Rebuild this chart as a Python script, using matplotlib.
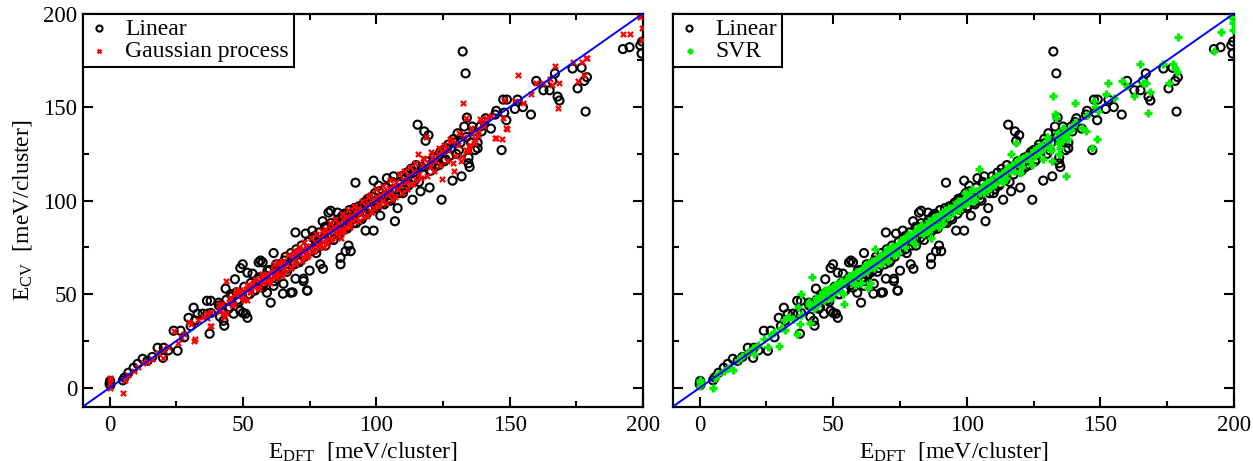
import matplotlib.pyplot as plt
from matplotlib.ticker import MultipleLocator

plt.rcParams['font.family'] = ['Liberation Serif', 'DejaVu Serif']
plt.rcParams['mathtext.fontset'] = 'custom'
plt.rcParams['mathtext.rm'] = 'Liberation Serif'
plt.rcParams['mathtext.it'] = 'Liberation Serif:italic'
plt.rcParams['font.size'] = 16.5

# DFT energies (shared x) and cross-validated predictions, meV/cluster
e_dft = [0.0, 0.2, 0.3, 0.1, 5.0, 5.6, 7.0, 9.0, 10.5, 12.4,
         14.2, 16.0, 18.0, 20.0, 20.3, 22.0, 24.0, 25.5, 26.6, 28.0,
         29.6, 30.4, 31.5, 32.0, 33.0, 34.9, 36.5, 36.7, 37.5, 37.9,
         38.0, 40.9, 41.4, 42.0, 42.7, 43.0, 43.5, 44.6, 45.4, 46.5,
         47.0, 48.0, 49.0, 49.0, 49.9, 50.0, 51.0, 51.7, 51.7, 52.5,
         53.6, 54.0, 55.5, 55.9, 56.6, 57.4, 57.4, 58.0, 59.0, 59.2,
         60.4, 61.0, 61.5, 61.5, 62.9, 63.6, 64.0, 65.0, 65.2, 65.5,
         66.5, 67.9, 68.6, 69.0, 69.7, 69.7, 70.5, 71.5, 72.7, 72.7,
         73.5, 74.0, 74.2, 75.0, 76.0, 77.0, 78.0, 79.0, 79.9, 80.0,
         80.5, 81.0, 82.1, 82.9, 83.5, 84.0, 85.0, 85.5, 86.0, 86.6,
         86.6, 86.6, 87.7, 88.5, 89.0, 89.6, 90.4, 91.0, 92.2, 92.5,
         93.0, 94.0, 95.0, 96.0, 96.5, 97.0, 98.0, 99.0, 99.0, 99.5,
         100.3, 100.9, 101.5, 102.0, 103.0, 104.0, 104.7, 105.5, 106.5, 107.0,
         107.5, 108.0, 109.0, 110.0, 111.0, 112.0, 113.6, 114.0, 115.5, 116.0,
         116.6, 117.0, 118.0, 118.5, 119.6, 120.0, 121.0, 122.0, 123.0, 124.5,
         125.0, 126.0, 127.0, 128.0, 128.6, 129.0, 130.0, 130.5, 131.6, 132.0,
         132.4, 133.0, 133.5, 134.0, 134.6, 134.6, 135.0, 136.0, 137.0, 138.0,
         138.0, 139.0, 139.5, 140.5, 141.0, 143.0, 144.6, 145.0, 147.0, 147.6,
         148.0, 148.8, 149.0, 152.0, 153.0, 155.0, 158.0, 160.0, 162.7, 165.0,
         166.0, 167.0, 168.0, 168.7, 173.6, 175.5, 177.0, 178.0, 178.5, 179.0,
         192.5, 195.0, 199.0, 199.5, 199.7,
         41.0, 43.8, 45.0, 46.0, 47.5, 48.5, 50.5, 52.0, 53.0, 54.5,
         56.0, 57.0, 58.5, 60.0, 61.8, 62.5, 63.0, 64.5, 66.0, 67.0,
         68.0, 69.3, 70.0, 71.0, 72.0, 73.0, 74.5, 75.5, 76.5, 77.5,
         78.5, 79.5, 81.5, 82.5, 83.0, 84.5, 85.8, 87.0, 88.0, 89.3,
         90.0, 91.5, 93.5, 94.5, 95.5, 97.5, 98.5, 100.0, 101.0, 102.5,
         103.5, 105.0, 106.0, 108.5, 109.5, 110.5, 111.5, 112.5, 113.0, 114.5,
         115.0, 117.5, 119.0, 120.5, 121.5, 123.5, 124.0, 125.5, 126.5, 127.5,
         129.5, 131.0, 133.8, 135.5, 136.5, 96.8, 91.8, 87.3, 80.8, 76.8]

e_linear = [2.0, 3.7, 1.5, 2.8, 4.0, 5.5, 8.0, 10.7, 12.8, 15.5,
            14.4, 16.5, 21.4, 16.0, 21.4, 20.0, 30.5, 19.8, 30.5, 27.0,
            37.4, 33.0, 42.8, 36.0, 39.6, 39.6, 46.5, 39.6, 28.9, 46.5,
            40.0, 45.5, 38.0, 44.0, 35.8, 33.2, 53.0, 42.2, 50.0, 39.6,
            58.0, 47.0, 41.2, 64.0, 66.0, 40.0, 39.6, 37.4, 61.5, 50.0,
            61.0, 52.0, 58.0, 67.0, 68.0, 53.5, 67.0, 56.0, 50.8, 62.5,
            45.5, 58.8, 54.5, 72.0, 60.0, 64.0, 66.0, 50.3, 55.6, 68.0,
            62.0, 50.8, 51.0, 70.0, 58.3, 83.0, 72.0, 68.0, 58.3, 57.0,
            82.4, 52.0, 51.9, 62.6, 84.0, 74.0, 78.0, 66.0, 89.0, 63.6,
            80.0, 76.0, 93.6, 94.6, 84.0, 79.0, 88.0, 93.6, 82.0, 88.0,
            69.5, 66.0, 91.0, 73.0, 85.0, 76.0, 73.0, 90.0, 109.6, 88.0,
            95.0, 91.0, 98.0, 84.0, 93.0, 100.0, 96.0, 110.7, 84.0, 104.0,
            97.0, 108.0, 92.0, 102.0, 98.0, 112.0, 103.0, 100.0, 113.0, 89.0,
            106.0, 96.0, 110.0, 104.0, 112.0, 108.0, 100.5, 115.0, 140.6, 110.0,
            105.0, 118.0, 137.0, 132.0, 135.0, 107.0, 120.0, 118.0, 124.0, 100.5,
            127.0, 122.0, 130.0, 128.0, 110.7, 133.0, 125.0, 136.0, 131.0, 113.0,
            179.7, 139.6, 168.0, 144.4, 123.0, 120.0, 118.0, 139.6, 127.0, 131.0,
            128.0, 139.6, 137.0, 142.0, 144.0, 138.5, 146.0, 148.0, 127.0, 154.0,
            147.0, 143.0, 154.0, 149.0, 154.0, 150.0, 146.0, 164.0, 159.0, 159.0,
            164.0, 168.0, 155.6, 153.5, 170.6, 160.0, 171.0, 164.0, 147.6, 166.0,
            181.0, 182.0, 183.0, 178.6, 185.0,
            44.0, 47.0, 43.0, 49.0, 51.0, 46.0, 54.0, 50.0, 56.0, 52.0,
            59.0, 55.0, 60.0, 63.0, 57.0, 66.0, 61.0, 62.0, 70.0, 64.0,
            72.0, 66.0, 74.0, 67.0, 76.0, 70.0, 78.0, 73.0, 80.0, 72.0,
            83.0, 76.0, 86.0, 80.0, 88.0, 82.0, 90.0, 84.0, 93.0, 86.0,
            95.0, 88.0, 97.0, 90.0, 99.0, 95.0, 102.0, 96.0, 105.0, 99.0,
            107.0, 101.0, 110.0, 104.0, 113.0, 106.0, 115.0, 109.0, 117.0, 111.0,
            119.0, 114.0, 121.0, 116.0, 123.0, 119.0, 126.0, 121.0, 128.0, 124.0,
            131.0, 127.0, 134.0, 131.0, 137.0, 101.0, 96.0, 92.0, 86.0, 81.0]

e_gp = [4.5, 2.5, 0.0, 5.0, -3.0, 4.0, 7.0, 9.0, 11.0, 13.0,
        14.0, 15.5, 18.5, 16.0, 20.0, 22.0, 30.5, 24.0, 27.0, 29.0,
        35.0, 34.0, 25.0, 26.0, 36.0, 38.0, 37.5, 40.0, 33.0, 40.5,
        33.0, 42.0, 41.0, 45.0, 40.0, 38.0, 57.0, 46.0, 48.0, 45.0,
        50.0, 49.0, 50.0, 52.0, 51.0, 48.0, 53.0, 47.0, 55.0, 51.0,
        56.0, 54.0, 54.0, 57.0, 58.0, 56.0, 60.0, 59.0, 57.0, 61.0,
        58.0, 62.0, 60.0, 63.0, 62.0, 66.0, 61.0, 63.0, 68.0, 65.0,
        66.0, 64.0, 70.0, 67.0, 71.0, 69.0, 72.0, 73.0, 70.0, 74.0,
        72.0, 75.0, 70.0, 76.0, 74.0, 78.0, 77.0, 80.0, 78.0, 75.0,
        82.0, 79.0, 83.0, 85.0, 80.0, 86.0, 84.0, 87.0, 88.0, 85.0,
        83.0, 80.0, 90.0, 86.0, 91.0, 88.0, 92.0, 89.0, 94.0, 90.0,
        96.0, 93.0, 95.0, 97.0, 92.0, 99.0, 94.0, 101.0, 96.0, 100.0,
        102.0, 98.0, 103.0, 100.0, 105.0, 103.0, 107.0, 104.0, 108.0, 102.0,
        110.0, 106.0, 108.0, 111.0, 110.0, 113.0, 109.0, 116.0, 125.0, 114.0,
        112.0, 119.0, 122.0, 134.0, 120.0, 118.0, 123.0, 121.0, 125.0, 111.8,
        126.0, 128.0, 127.0, 132.0, 120.0, 116.0, 131.0, 130.0, 121.0, 124.0,
        152.4, 134.0, 144.0, 126.7, 129.0, 127.0, 130.0, 136.0, 133.0, 137.0,
        135.0, 143.8, 141.0, 140.0, 144.0, 145.0, 133.7, 133.7, 133.0, 144.0,
        154.0, 139.0, 138.5, 153.0, 167.0, 152.0, 157.0, 163.0, 162.6, 165.0,
        162.0, 171.7, 149.7, 162.6, 174.0, 164.0, 174.3, 167.0, 176.0, 176.0,
        188.8, 189.3, 198.0, 192.5, 185.6,
        45.0, 40.0, 48.0, 44.0, 52.0, 50.0, 47.0, 55.0, 51.0, 58.0,
        53.0, 61.0, 57.0, 56.0, 66.0, 59.0, 67.0, 60.0, 62.0, 71.0,
        64.0, 73.0, 66.0, 75.0, 68.0, 78.0, 71.0, 80.0, 73.0, 82.0,
        75.0, 84.0, 77.0, 88.0, 79.0, 90.0, 81.0, 93.0, 84.0, 95.0,
        86.0, 97.0, 89.0, 100.0, 91.0, 103.0, 94.0, 106.0, 97.0, 108.0,
        99.0, 111.0, 101.0, 114.0, 104.0, 116.0, 106.0, 118.0, 109.0, 120.0,
        111.0, 123.0, 113.0, 126.0, 116.0, 128.0, 119.0, 130.0, 121.0, 133.0,
        124.0, 136.0, 127.0, 139.0, 131.0, 102.0, 97.0, 83.0, 85.0, 73.0]

e_svr = [1.0, 3.0, 2.0, 4.0, 0.0, 5.0, 7.5, 9.0, 10.5, 9.6,
         15.0, 17.0, 19.0, 21.0, 18.0, 23.0, 26.0, 22.0, 28.0, 30.0,
         22.5, 32.0, 36.0, 31.0, 38.0, 37.0, 29.0, 43.0, 34.0, 50.0,
         39.0, 44.0, 34.8, 59.0, 42.0, 45.0, 48.0, 46.0, 49.0, 47.0,
         52.0, 51.0, 48.0, 53.0, 54.0, 50.0, 52.0, 55.0, 54.0, 56.0,
         50.0, 45.0, 58.0, 60.0, 57.0, 59.0, 61.0, 55.0, 62.0, 60.0,
         56.0, 64.0, 63.0, 62.0, 53.5, 56.0, 65.0, 67.0, 64.0, 74.0,
         68.0, 66.0, 69.0, 71.0, 70.0, 72.0, 68.0, 73.0, 75.0, 71.0,
         74.0, 76.0, 72.0, 77.0, 78.0, 75.0, 80.0, 79.0, 82.0, 81.0,
         77.0, 84.0, 83.0, 86.0, 82.0, 85.0, 87.0, 84.0, 89.0, 88.0,
         85.0, 80.0, 87.0, 90.0, 91.0, 86.0, 92.0, 88.0, 93.0, 95.0,
         91.0, 96.0, 94.0, 97.0, 99.0, 95.0, 100.0, 98.0, 101.0, 104.0,
         99.0, 103.0, 102.0, 106.0, 101.0, 105.0, 117.0, 107.0, 104.0, 108.0,
         110.0, 106.0, 111.0, 109.0, 113.0, 112.0, 110.0, 114.0, 118.0, 116.0,
         125.0, 119.0, 120.0, 131.0, 122.0, 115.0, 121.0, 124.0, 123.0, 119.0,
         127.0, 126.0, 129.0, 130.0, 122.0, 128.0, 134.0, 132.0, 127.0, 121.0,
         156.0, 146.5, 144.0, 136.0, 131.0, 125.0, 128.0, 139.0, 113.4, 133.0,
         136.0, 138.0, 140.0, 152.0, 142.0, 139.0, 137.4, 146.0, 128.3, 153.5,
         150.0, 133.0, 148.0, 157.0, 162.6, 155.0, 164.0, 161.0, 156.0, 173.0,
         162.6, 163.0, 147.0, 158.0, 173.0, 162.6, 173.0, 171.0, 169.0, 187.7,
         180.0, 190.0, 198.0, 191.0, 195.0,
         46.0, 44.0, 49.0, 51.0, 48.0, 53.0, 55.0, 52.0, 57.0, 56.0,
         60.0, 58.0, 62.0, 61.0, 64.0, 66.0, 63.0, 68.0, 67.0, 70.0,
         71.0, 69.0, 74.0, 72.0, 76.0, 75.0, 77.0, 79.0, 78.0, 81.0,
         82.0, 80.0, 85.0, 83.0, 87.0, 86.0, 89.0, 88.0, 91.0, 90.0,
         93.0, 92.0, 96.0, 95.0, 97.0, 99.0, 98.0, 101.0, 103.0, 100.0,
         105.0, 104.0, 108.0, 107.0, 110.0, 109.0, 113.0, 111.0, 115.0, 112.0,
         117.0, 116.0, 120.0, 118.0, 123.0, 121.0, 125.0, 124.0, 127.0, 126.0,
         130.0, 129.0, 134.0, 132.0, 135.0, 100.0, 95.0, 90.0, 84.0, 80.0]

fig = plt.figure(figsize=(12.53, 4.61), dpi=100)
ax1 = fig.add_axes([0.0662, 0.1182, 0.4469, 0.8525])
ax2 = fig.add_axes([0.5371, 0.1182, 0.4477, 0.8525])


def panel(ax, ml, label, color, marker, size, lw):
    ax.scatter(e_dft, e_linear, s=34, facecolors='none', edgecolors='black',
               linewidths=1.5, label='Linear', zorder=2)
    ax.scatter(e_dft, ml, s=size, c=color, marker=marker, linewidths=lw,
               label=label, zorder=3)
    ax.plot([-10, 200], [-10, 200], color='blue', lw=1.4, zorder=4)
    ax.set_xlim(-10, 200)
    ax.set_ylim(-10, 200)
    ax.set_xticks([0, 50, 100, 150, 200])
    ax.set_yticks([0, 50, 100, 150, 200])
    ax.xaxis.set_minor_locator(MultipleLocator(25))
    ax.yaxis.set_minor_locator(MultipleLocator(25))
    ax.tick_params(which='both', direction='in', top=True, right=True, width=1.5)
    ax.tick_params(which='major', length=7)
    ax.tick_params(which='minor', length=4.3)
    ax.tick_params(axis='x', pad=6)
    ax.tick_params(axis='y', pad=4)
    for sp in ax.spines.values():
        sp.set_linewidth(1.6)
    ax.set_xlabel(r'E$_{\mathrm{DFT}}$  [meV/cluster]', fontsize=17, labelpad=3)
    leg = ax.legend(loc='upper left', borderaxespad=0, fancybox=False,
                    edgecolor='black', framealpha=1, markerscale=0.75,
                    handlelength=1.0, handletextpad=0.6, borderpad=0.2,
                    labelspacing=0.05, fontsize=17)
    leg.get_frame().set_linewidth(1.5)


panel(ax1, e_gp, 'Gaussian process', 'red', 'x', 14, 1.6)
panel(ax2, e_svr, 'SVR', '#00ee00', '+', 28, 2.4)

ax1.set_ylabel(r'E$_{\mathrm{CV}}$  [meV/cluster]', fontsize=17, labelpad=7)
ax2.tick_params(axis='y', labelleft=False)

plt.savefig('out.png', dpi=100)
